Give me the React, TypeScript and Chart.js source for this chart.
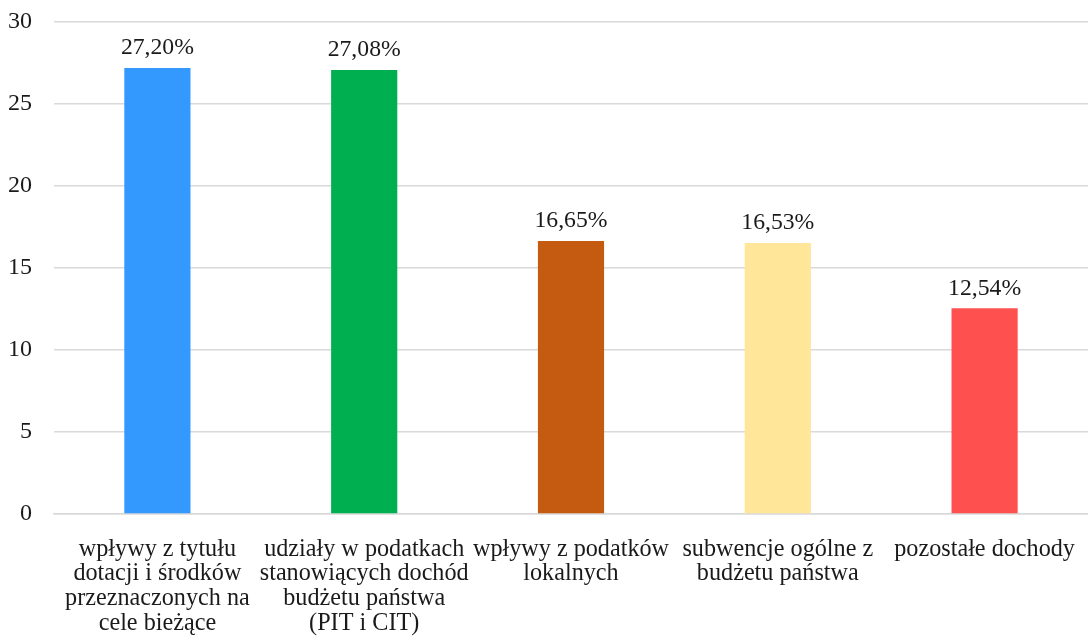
import React, { useEffect, useRef } from "react";
import { Chart, registerables } from "chart.js";

Chart.register(...registerables);

const categories: string[][] = [
  ["wpływy z tytułu", "dotacji i środków", "przeznaczonych na", "cele bieżące"],
  ["udziały w podatkach", "stanowiących dochód", "budżetu państwa", "(PIT i CIT)"],
  ["wpływy z podatków", "lokalnych"],
  ["subwencje ogólne z", "budżetu państwa"],
  ["pozostałe dochody"],
];
const values: number[] = [27.2, 27.08, 16.65, 16.53, 12.54];
const valueLabels: string[] = ["27,20%", "27,08%", "16,65%", "16,53%", "12,54%"];
const barColors: string[] = ["#3399FF", "#00B050", "#C55A11", "#FFE699", "#FF5050"];
const yTicks: number[] = [0, 5, 10, 15, 20, 25, 30];

const FONT = "'Liberation Serif', 'Times New Roman', serif";

const valueLabelPlugin = {
  id: "valueLabels",
  afterDatasetsDraw(chart: any) {
    const ctx = chart.ctx;
    const meta = chart.getDatasetMeta(0);
    ctx.save();
    ctx.font = `23.7px ${FONT}`;
    ctx.fillStyle = "#1a1a1a";
    ctx.textAlign = "center";
    ctx.textBaseline = "bottom";
    meta.data.forEach((bar: any, i: number) => {
      ctx.fillText(valueLabels[i], bar.x, bar.y - 8);
    });
    ctx.restore();
  },
};

export default function App() {
  const ref = useRef<HTMLCanvasElement | null>(null);
  useEffect(() => {
    if (!ref.current) return;
    const chart = new Chart(ref.current, {
      type: "bar",
      data: {
        labels: categories,
        datasets: [
          {
            data: values,
            backgroundColor: barColors,
            borderWidth: 0,
            barPercentage: 0.32,
            categoryPercentage: 1,
          },
        ],
      },
      options: {
        animation: false,
        responsive: true,
        maintainAspectRatio: false,
        layout: { padding: { top: 22, right: 0, left: 0, bottom: 0 } },
        plugins: {
          legend: { display: false },
          tooltip: { enabled: false },
        },
        scales: {
          x: {
            grid: { display: false, drawTicks: false },
            border: { display: true, color: "#d9d9d9", width: 1.5 },
            ticks: {
              color: "#1a1a1a",
              font: { family: FONT, size: 24.2, lineHeight: 1.02 },
              maxRotation: 0,
              autoSkip: false,
              padding: 23,
            },
            afterFit: (scale: any) => {
              scale.height = 122;
              scale.paddingLeft = 0;
              scale.paddingRight = 0;
              scale.paddingTop = 0;
              scale.paddingBottom = 0;
            },
          },
          y: {
            min: 0,
            max: 30,
            afterBuildTicks: (scale: any) => {
              scale.ticks = yTicks.map((v) => ({ value: v }));
            },
            grid: { color: "#d9d9d9", lineWidth: 1.5, drawTicks: false },
            border: { display: false },
            ticks: {
              color: "#1a1a1a",
              font: { family: FONT, size: 24 },
              padding: 22,
            },
            afterFit: (scale: any) => {
              scale.width = 54;
              scale.paddingTop = 0;
              scale.paddingBottom = 0;
              scale.paddingLeft = 0;
              scale.paddingRight = 0;
            },
          },
        },
      },
      plugins: [valueLabelPlugin],
    });
    return () => chart.destroy();
  }, []);
  return (
    <div style={{ position: "fixed", left: 0, top: 0, width: 1088, height: 636, background: "#fff" }}>
      <canvas ref={ref} />
    </div>
  );
}
